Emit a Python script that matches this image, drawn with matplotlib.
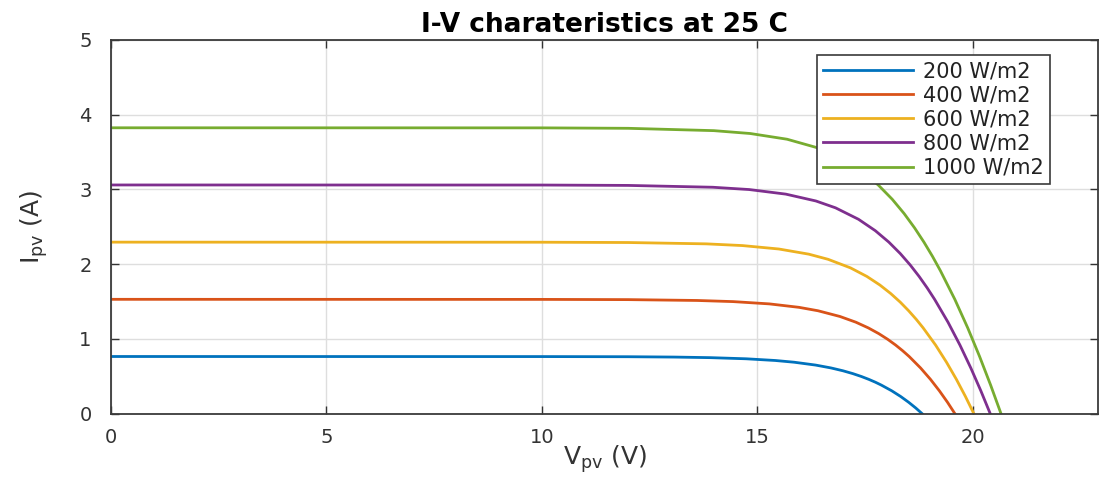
import matplotlib
matplotlib.use('Agg')
import matplotlib.pyplot as plt

plt.rcParams['font.family'] = ['DejaVu Sans']
plt.rcParams['mathtext.default'] = 'regular'

# I-V curves of the PV module at 25 C, one per irradiance level
labels = ['200 W/m2', '400 W/m2', '600 W/m2', '800 W/m2', '1000 W/m2']
colors = ['#0072BD', '#D95319', '#EDB120', '#7E2F8E', '#77AC30']

v_200 = [0, 10, 12, 13.067, 13.901, 14.737, 15.415, 15.850, 16.348, 16.705, 16.984,
         17.215, 17.411, 17.583, 17.736, 17.873, 18.115, 18.323, 18.506, 18.671, 18.82]
i_200 = [0.765, 0.764, 0.762, 0.7574, 0.7497, 0.7344, 0.7115, 0.6885, 0.6503, 0.612, 0.5738,
         0.5355, 0.4973, 0.459, 0.4208, 0.3825, 0.306, 0.2295, 0.153, 0.0765, 0]

v_400 = [0, 10, 12, 13.599, 14.436, 15.277, 15.962, 16.404, 16.913, 17.282, 17.572,
         17.814, 18.022, 18.205, 18.369, 18.519, 18.783, 19.014, 19.220, 19.408, 19.58]
i_400 = [1.53, 1.529, 1.526, 1.5147, 1.4994, 1.4688, 1.4229, 1.377, 1.3005, 1.224, 1.1475,
         1.071, 0.9945, 0.918, 0.8415, 0.765, 0.612, 0.459, 0.306, 0.153, 0]

v_600 = [0, 10, 12, 13.812, 14.651, 15.496, 16.189, 16.637, 17.158, 17.538, 17.840,
         18.093, 18.313, 18.507, 18.683, 18.844, 19.132, 19.385, 19.615, 19.825, 20.02]
i_600 = [2.295, 2.294, 2.290, 2.2721, 2.2491, 2.2032, 2.1344, 2.0655, 1.9508, 1.836, 1.7213,
         1.6065, 1.4918, 1.377, 1.2623, 1.1475, 0.918, 0.6885, 0.459, 0.2295, 0]

v_800 = [0, 10, 12, 13.965, 14.806, 15.656, 16.355, 16.811, 17.343, 17.734, 18.048,
         18.313, 18.544, 18.750, 18.937, 19.109, 19.420, 19.697, 19.949, 20.182, 20.40]
i_800 = [3.06, 3.059, 3.054, 3.0294, 2.9988, 2.9376, 2.8458, 2.754, 2.601, 2.448, 2.295,
         2.142, 1.989, 1.836, 1.683, 1.53, 1.224, 0.918, 0.612, 0.306, 0]

v_1000 = [0, 10, 12, 13.988, 14.831, 15.686, 16.392, 16.854, 17.398, 17.801, 18.126,
          18.402, 18.644, 18.862, 19.061, 19.244, 19.578, 19.878, 20.153, 20.409, 20.65]
i_1000 = [3.825, 3.824, 3.818, 3.7868, 3.7485, 3.672, 3.5573, 3.4425, 3.2513, 3.06, 2.8688,
          2.6775, 2.4863, 2.295, 2.1038, 1.9125, 1.53, 1.1475, 0.765, 0.3825, 0]

voltages = [v_200, v_400, v_600, v_800, v_1000]
currents = [i_200, i_400, i_600, i_800, i_1000]

fig = plt.figure(figsize=(11.12, 4.88), dpi=100)
ax = fig.add_axes([0.0998, 0.1523, 0.8876, 0.7658])

for v, i, c, lab in zip(voltages, currents, colors, labels):
    ax.plot(v, i, color=c, linewidth=2.0, label=lab)

ax.set_xlim(0, 22.9)
ax.set_ylim(0, 5)
ax.set_xticks([0, 5, 10, 15, 20])
ax.set_yticks([0, 1, 2, 3, 4, 5])
ax.grid(True, color='#dedede', linewidth=1.0)
ax.set_axisbelow(True)

ax.tick_params(direction='in', length=6, width=1.0, top=True, right=True,
               labelsize=14, colors='#333333')
ax.tick_params(axis='x', pad=10)
ax.tick_params(axis='y', pad=14)
for side in ax.spines.values():
    side.set_color('#3a3a3a')
    side.set_linewidth(1.3)

ax.set_title('I-V charateristics at 25 C', fontsize=19, fontweight='bold', pad=6)
ax.set_xlabel('V$_{pv}$ (V)', fontsize=18, color='#333333')
ax.set_ylabel('I$_{pv}$ (A)', fontsize=18, color='#333333')
ax.xaxis.set_label_coords(0.5, -0.08)
ax.yaxis.set_label_coords(-0.062, 0.5)

leg = ax.legend(loc='upper left', bbox_to_anchor=(0.7153, 0.9599), borderaxespad=0,
                fontsize=15, handlelength=4.3, handletextpad=0.5, labelspacing=0.2,
                borderpad=0.3, fancybox=False, framealpha=1, edgecolor='#3a3a3a')
leg.get_frame().set_linewidth(1.2)
for t in leg.get_texts():
    t.set_color('#222222')

plt.savefig('out.png', dpi=100)
